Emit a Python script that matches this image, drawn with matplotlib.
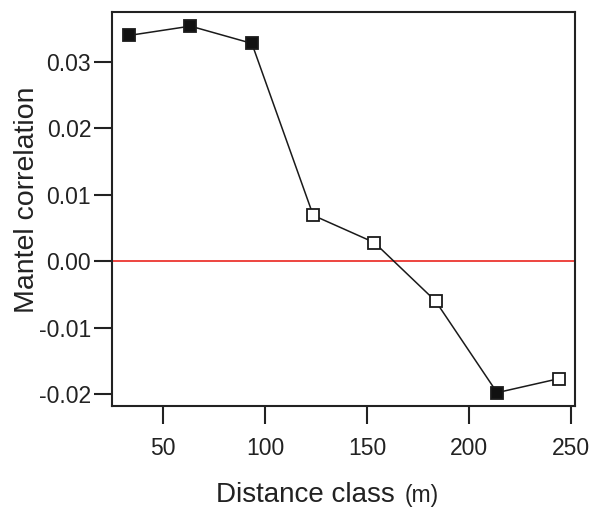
import matplotlib
matplotlib.use("Agg")
import matplotlib.pyplot as plt
import numpy as np

# Mantel correlogram values
distance = [33.3, 63.4, 93.5, 123.6, 153.6, 183.6, 213.8, 244.0]
mantel_r = [0.0340, 0.0354, 0.0328, 0.0069, 0.0028, -0.0060, -0.0198, -0.0177]
significant = [True, True, True, False, False, False, True, False]

x_ticks = [50, 100, 150, 200, 250]
y_ticks = [-0.02, -0.01, 0.00, 0.01, 0.02, 0.03]

plt.rcParams['font.family'] = ['Liberation Sans', 'DejaVu Sans']

fig = plt.figure(figsize=(5.97, 5.08), dpi=100)
ax = fig.add_axes([0.1876, 0.2008, 0.7755, 0.7756])

ax.axhline(0, color='#e8120c', lw=1.1, zorder=1)
ax.plot(distance, mantel_r, color='#1a1a1a', lw=1.1, zorder=2)

dist = np.array(distance)
r = np.array(mantel_r)
sig = np.array(significant)
ax.plot(dist[sig], r[sig], 's', ms=9, mfc='#111111', mec='#1a1a1a', mew=1.3,
        ls='none', zorder=3)
ax.plot(dist[~sig], r[~sig], 's', ms=9, mfc='white', mec='#1a1a1a', mew=1.3,
        ls='none', zorder=3)

ax.set_xlim(24.9, 252.0)
ax.set_ylim(-0.02181, 0.03753)
ax.set_xticks(x_ticks)
ax.set_yticks(y_ticks)
ax.set_yticklabels([f"{v:.2f}" for v in y_ticks])

for s in ax.spines.values():
    s.set_linewidth(1.5)
    s.set_color('#222222')
ax.tick_params(axis='both', length=13, width=1.5, color='#222222',
               labelsize=16.5, labelcolor='#222222')
ax.tick_params(axis='x', pad=9)
ax.tick_params(axis='y', pad=2)

fig.text(0.0452, 0.606, "Mantel correlation", fontsize=20.5, color='#222222',
         rotation=90, ha='center', va='center')

# axis title: units set in a smaller size, as in the original
fig.text(0.6616, 0.0124, "Distance class", fontsize=20, color='#222222',
         ha='right', va='baseline')
fig.text(0.678, 0.0124, "(m)", fontsize=16.5, color='#222222',
         ha='left', va='baseline')

fig.savefig("out.png", dpi=100)
